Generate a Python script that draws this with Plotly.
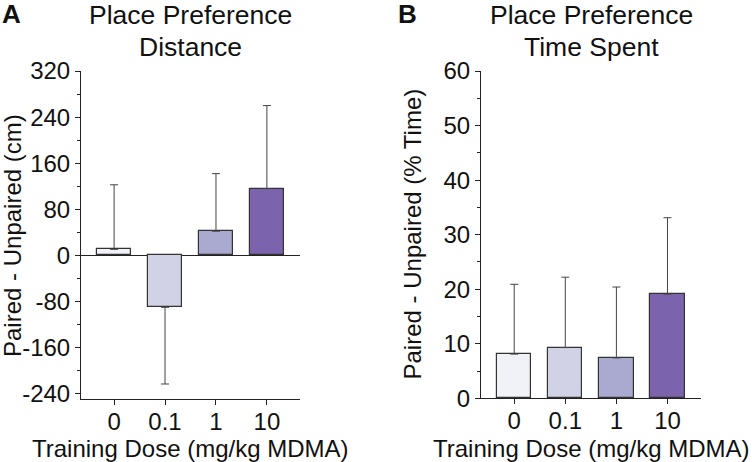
import plotly.graph_objects as go

categories = ["0", "0.1", "1", "10"]
bar_colors = ["#f1f1f8", "#d2d2e6", "#aaaad0", "#7b64ad"]

# Panel A: distance (cm)
dist_mean = [10.6, -90, 42, 116]
dist_sem = [112, 133, 100, 144]
dist_ticks = [-240, -160, -80, 0, 80, 160, 240, 320]
dist_ticklabels = ["-240", "-160", "-80", "0", "80", "160", "240", "320"]

# Panel B: time spent (% time)
time_mean = [8.1, 9.3, 7.4, 19.1]
time_sem = [12.8, 12.9, 13.0, 14.0]
time_ticks = [0, 10, 20, 30, 40, 50, 60]

FONT = "Liberation Sans, Arial, sans-serif"
AX = "#222222"
TXT = "#111111"
W, H = 752, 462

fig = go.Figure()

dist_up = [s if m >= 0 else 0 for m, s in zip(dist_mean, dist_sem)]
dist_dn = [s if m < 0 else 0 for m, s in zip(dist_mean, dist_sem)]

fig.add_trace(go.Bar(
    x=categories, y=dist_mean, width=0.67,
    marker=dict(color=bar_colors, line=dict(color="#333333", width=1.2)),
    error_y=dict(type="data", symmetric=False, array=dist_up, arrayminus=dist_dn,
                 color="#444444", thickness=1, width=4),
    xaxis="x", yaxis="y", showlegend=False,
))

fig.add_trace(go.Bar(
    x=categories, y=time_mean, width=0.67,
    marker=dict(color=bar_colors, line=dict(color="#333333", width=1.2)),
    error_y=dict(type="data", symmetric=False, array=time_sem,
                 arrayminus=[0] * len(time_sem),
                 color="#444444", thickness=1, width=4),
    xaxis="x2", yaxis="y2", showlegend=False,
))

xcommon = dict(
    type="category", range=[-0.65, 3.65], automargin=False,
    showline=True, linecolor=AX, linewidth=1,
    ticks="outside", ticklen=5, tickcolor=AX,
    tickfont=dict(size=24, color=TXT), ticklabelstandoff=-4,
    showgrid=False, zeroline=False,
)
ycommon = dict(
    automargin=False,
    showline=True, linecolor=AX, linewidth=1,
    ticks="outside", ticklen=5, tickcolor=AX,
    tickfont=dict(size=24, color=TXT),
    showgrid=False,
)


def ann(text, px, py, size, angle=0, xanchor="center"):
    return dict(text=text, x=px / W, y=1 - py / H, xref="paper", yref="paper",
                xanchor=xanchor, yanchor="middle", showarrow=False, textangle=angle,
                font=dict(size=size, color=TXT))


fig.update_layout(
    width=W, height=H,
    margin=dict(l=0, r=0, t=0, b=0),
    paper_bgcolor="white", plot_bgcolor="white",
    font=dict(family=FONT, color=TXT),
    bargap=0,
    xaxis=dict(domain=[81 / W, 300 / W], anchor="y", **xcommon),
    xaxis2=dict(domain=[481 / W, 700.7 / W], anchor="y2", **xcommon),
    yaxis=dict(domain=[1 - 399 / H, 1 - 71 / H], anchor="x", range=[-249, 320],
               tickvals=dist_ticks, ticktext=dist_ticklabels,
               minor=dict(dtick=40, tick0=0, ticks="outside", ticklen=3, tickcolor=AX),
               zeroline=True, zerolinecolor=AX, zerolinewidth=1,
               **ycommon),
    yaxis2=dict(domain=[1 - 398.3 / H, 1 - 71 / H], anchor="x2", range=[0, 60],
                tickvals=time_ticks,
                minor=dict(dtick=5, tick0=0, ticks="outside", ticklen=3, tickcolor=AX),
                zeroline=False,
                **ycommon),
    annotations=[
        ann("Place Preference", 190.5, 15, 26.5),
        ann("Distance", 190.5, 47, 26.5),
        ann("Place Preference", 591, 15, 26.5),
        ann("Time Spent", 591, 47, 26.5),
        ann("<b>A</b>", 11, 14, 26),
        ann("<b>B</b>", 407, 14, 26),
        ann("Paired - Unpaired (cm)", 12, 236, 24, angle=-90),
        ann("Paired - Unpaired (% Time)", 412.5, 234, 24, angle=-90),
        ann("Training Dose (mg/kg MDMA)", 190.8, 448, 24),
        ann("Training Dose (mg/kg MDMA)", 591.5, 448, 24),
    ],
)

fig.write_html("out.html", config={"displayModeBar": False},
               post_script="document.body.style.margin='0';document.body.style.overflow='hidden';")
